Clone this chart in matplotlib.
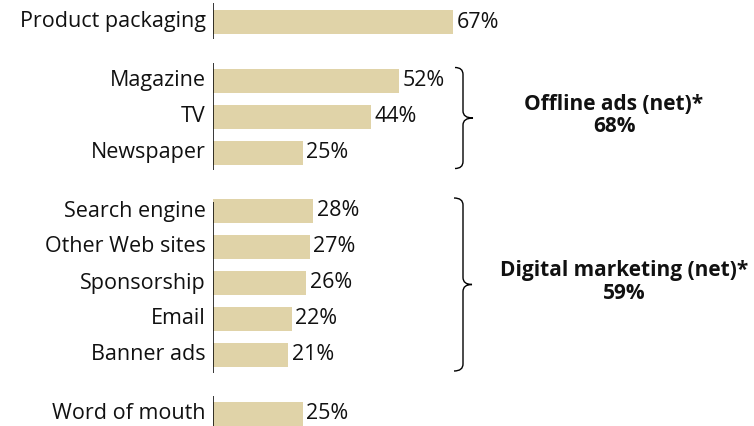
import numpy as np
import matplotlib
matplotlib.use("Agg")
import matplotlib.pyplot as plt
from matplotlib.path import Path
from matplotlib.patches import PathPatch

# ── Data ──────────────────────────────────────────────────────────────────────
categories = ["Product packaging",
              "Magazine", "TV", "Newspaper",
              "Search engine", "Other Web sites", "Sponsorship", "Email", "Banner ads",
              "Word of mouth"]
values = [67, 52, 44, 25, 28, 27, 26, 22, 21, 25]
groups = [0, 1, 1, 1, 2, 2, 2, 2, 2, 3]

net_labels = ["Offline ads (net)*", "Digital marketing (net)*"]
net_values = [68, 59]

# ── Layout (pixels) ───────────────────────────────────────────────────────────
W, H = 754, 426
AXIS_X = 213
PX_PER_PCT = 3.58
ROW = 36
GAP = 58.5
TOP = 22
BAR_COLOR = "#E0D3A8"
FONT = "Open Sans"
FS = 15.5
FS_BOLD = 15
TXT = "#111111"

# axis line extent per group (above first row, below last row)
LINE_EXT = [(19, 17), (18, 17), (9, 18), (18, 15)]
# brace x: curl end, stem, tip ; text centre x
BRACE_X = [(455, 463, 473), (454, 463, 472)]
NET_CX = [614, 624]

ys = []
y = TOP
for i, g in enumerate(groups):
    if i > 0:
        y += ROW if g == groups[i - 1] else GAP
    ys.append(y)
ys = np.array(ys, dtype=float)
groups_arr = np.array(groups)

fig = plt.figure(figsize=(W / 100, H / 100), dpi=100)

# bars axis: x in percent, y in pixel rows
ax = fig.add_axes([AXIS_X / W, 0, (W - AXIS_X) / W, 1])
ax.set_xlim(0, (W - AXIS_X) / PX_PER_PCT)
ax.set_ylim(H, 0)
ax.axis("off")

ax.barh(ys, values, height=24, color=BAR_COLOR, linewidth=0)
for yv, v, c in zip(ys, values, categories):
    ax.text(v + 1.0, yv, f"{v}%", va="center", ha="left",
            fontsize=FS, family=FONT, color=TXT)
    ax.text(-2.0, yv, c, va="center", ha="right",
            fontsize=FS, family=FONT, color=TXT)

# axis line segments per group
for g, (up, down) in zip(sorted(set(groups)), LINE_EXT):
    gy = ys[groups_arr == g]
    ax.plot([0, 0], [gy.min() - up, gy.max() + down], color="black", lw=1.1,
            solid_capstyle="butt")

# overlay for braces, pixel coords
ov = fig.add_axes([0, 0, 1, 1])
ov.set_xlim(0, W)
ov.set_ylim(H, 0)
ov.axis("off")


def brace(axx, x0, xm, xt, y0, y1, r=7):
    ym = (y0 + y1) / 2
    verts = [(x0, y0), (xm, y0), (xm, y0 + r),
             (xm, ym - r), (xm, ym), (xt, ym),
             (xm, ym), (xm, ym + r),
             (xm, y1 - r), (xm, y1), (x0, y1)]
    codes = [Path.MOVETO, Path.CURVE3, Path.CURVE3,
             Path.LINETO, Path.CURVE3, Path.CURVE3,
             Path.CURVE3, Path.CURVE3,
             Path.LINETO, Path.CURVE3, Path.CURVE3]
    axx.add_patch(PathPatch(Path(verts, codes), fill=False, lw=1.0,
                            edgecolor="black"))
    return ym


for g, lab, nv, (x0, xm, xt), cx in zip([1, 2], net_labels, net_values,
                                        BRACE_X, NET_CX):
    gy = ys[groups_arr == g]
    ym = brace(ov, x0, xm, xt, gy.min() - 13, gy.max() + 16)
    ov.text(cx, ym - 14, lab, ha="center", va="center", fontsize=FS_BOLD,
            family=FONT, fontweight="bold", color=TXT)
    ov.text(cx, ym + 9, f"{nv}%", ha="center", va="center", fontsize=FS_BOLD,
            family=FONT, fontweight="bold", color=TXT)

fig.savefig("out.png", dpi=100)
